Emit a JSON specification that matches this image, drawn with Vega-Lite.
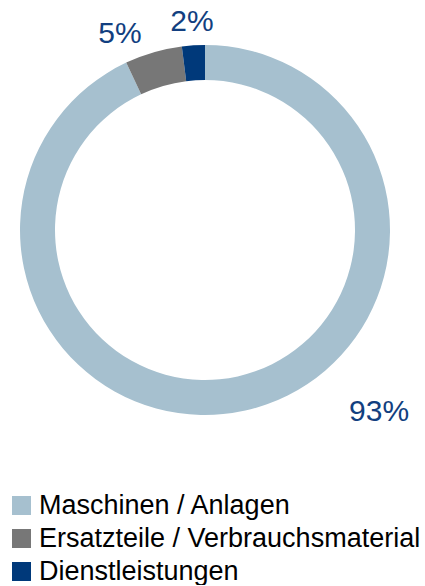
{
  "$schema": "https://vega.github.io/schema/vega-lite/v6.json",
  "width": 410,
  "height": 460,
  "padding": 0,
  "autosize": {"type": "pad"},
  "background": "white",
  "config": {"view": {"stroke": null}, "font": "Liberation Sans"},
  "data": {"values": [
    {"category": "Maschinen / Anlagen", "value": 0.93, "rank": 1},
    {"category": "Ersatzteile / Verbrauchsmaterial", "value": 0.05, "rank": 2},
    {"category": "Dienstleistungen", "value": 0.02, "rank": 3}
  ]},
  "layer": [
    {
      "mark": {"type": "arc", "outerRadius": 185, "innerRadius": 150},
      "encoding": {
        "theta": {"field": "value", "type": "quantitative", "stack": true, "scale": {"domain": [0, 1]}},
        "order": {"field": "rank", "type": "quantitative"},
        "color": {
          "field": "category", "type": "nominal",
          "scale": {"domain": ["Maschinen / Anlagen", "Ersatzteile / Verbrauchsmaterial", "Dienstleistungen"],
                    "range": ["#A6C0CF", "#777777", "#00397A"]},
          "legend": {
            "title": null, "orient": "none", "legendX": 8, "legendY": 492,
            "symbolType": "square", "symbolSize": 361, "symbolStrokeWidth": 0,
            "labelFontSize": 27, "labelFont": "Liberation Sans", "labelColor": "#000000",
            "labelOffset": 4, "rowPadding": 5, "padding": 0, "labelLimit": 500
          }
        }
      }
    },
    {
      "transform": [
        {"stack": "value", "groupby": [], "sort": [{"field": "rank"}], "as": ["v0", "v1"]},
        {"filter": "datum.category == 'Maschinen / Anlagen'"}
      ],
      "mark": {"type": "text", "radius": 252, "thetaOffset": 2.379, "fontSize": 30, "color": "#123F80", "align": "center", "baseline": "middle"},
      "encoding": {
        "theta": {"field": "v0", "type": "quantitative", "scale": {"domain": [0, 1]}},
        "text": {"field": "value", "type": "quantitative", "format": ".0%"}
      }
    },
    {
      "transform": [
        {"stack": "value", "groupby": [], "sort": [{"field": "rank"}], "as": ["v0", "v1"]},
        {"filter": "datum.category == 'Ersatzteile / Verbrauchsmaterial'"}
      ],
      "mark": {"type": "text", "radius": 214, "thetaOffset": 0.031, "fontSize": 30, "color": "#123F80", "align": "center", "baseline": "middle"},
      "encoding": {
        "theta": {"field": "v0", "type": "quantitative", "scale": {"domain": [0, 1]}},
        "text": {"field": "value", "type": "quantitative", "format": ".0%"}
      }
    },
    {
      "transform": [
        {"stack": "value", "groupby": [], "sort": [{"field": "rank"}], "as": ["v0", "v1"]},
        {"filter": "datum.category == 'Dienstleistungen'"}
      ],
      "mark": {"type": "text", "radius": 208, "thetaOffset": 0.063, "fontSize": 30, "color": "#123F80", "align": "center", "baseline": "middle"},
      "encoding": {
        "theta": {"field": "v0", "type": "quantitative", "scale": {"domain": [0, 1]}},
        "text": {"field": "value", "type": "quantitative", "format": ".0%"}
      }
    }
  ]
}
